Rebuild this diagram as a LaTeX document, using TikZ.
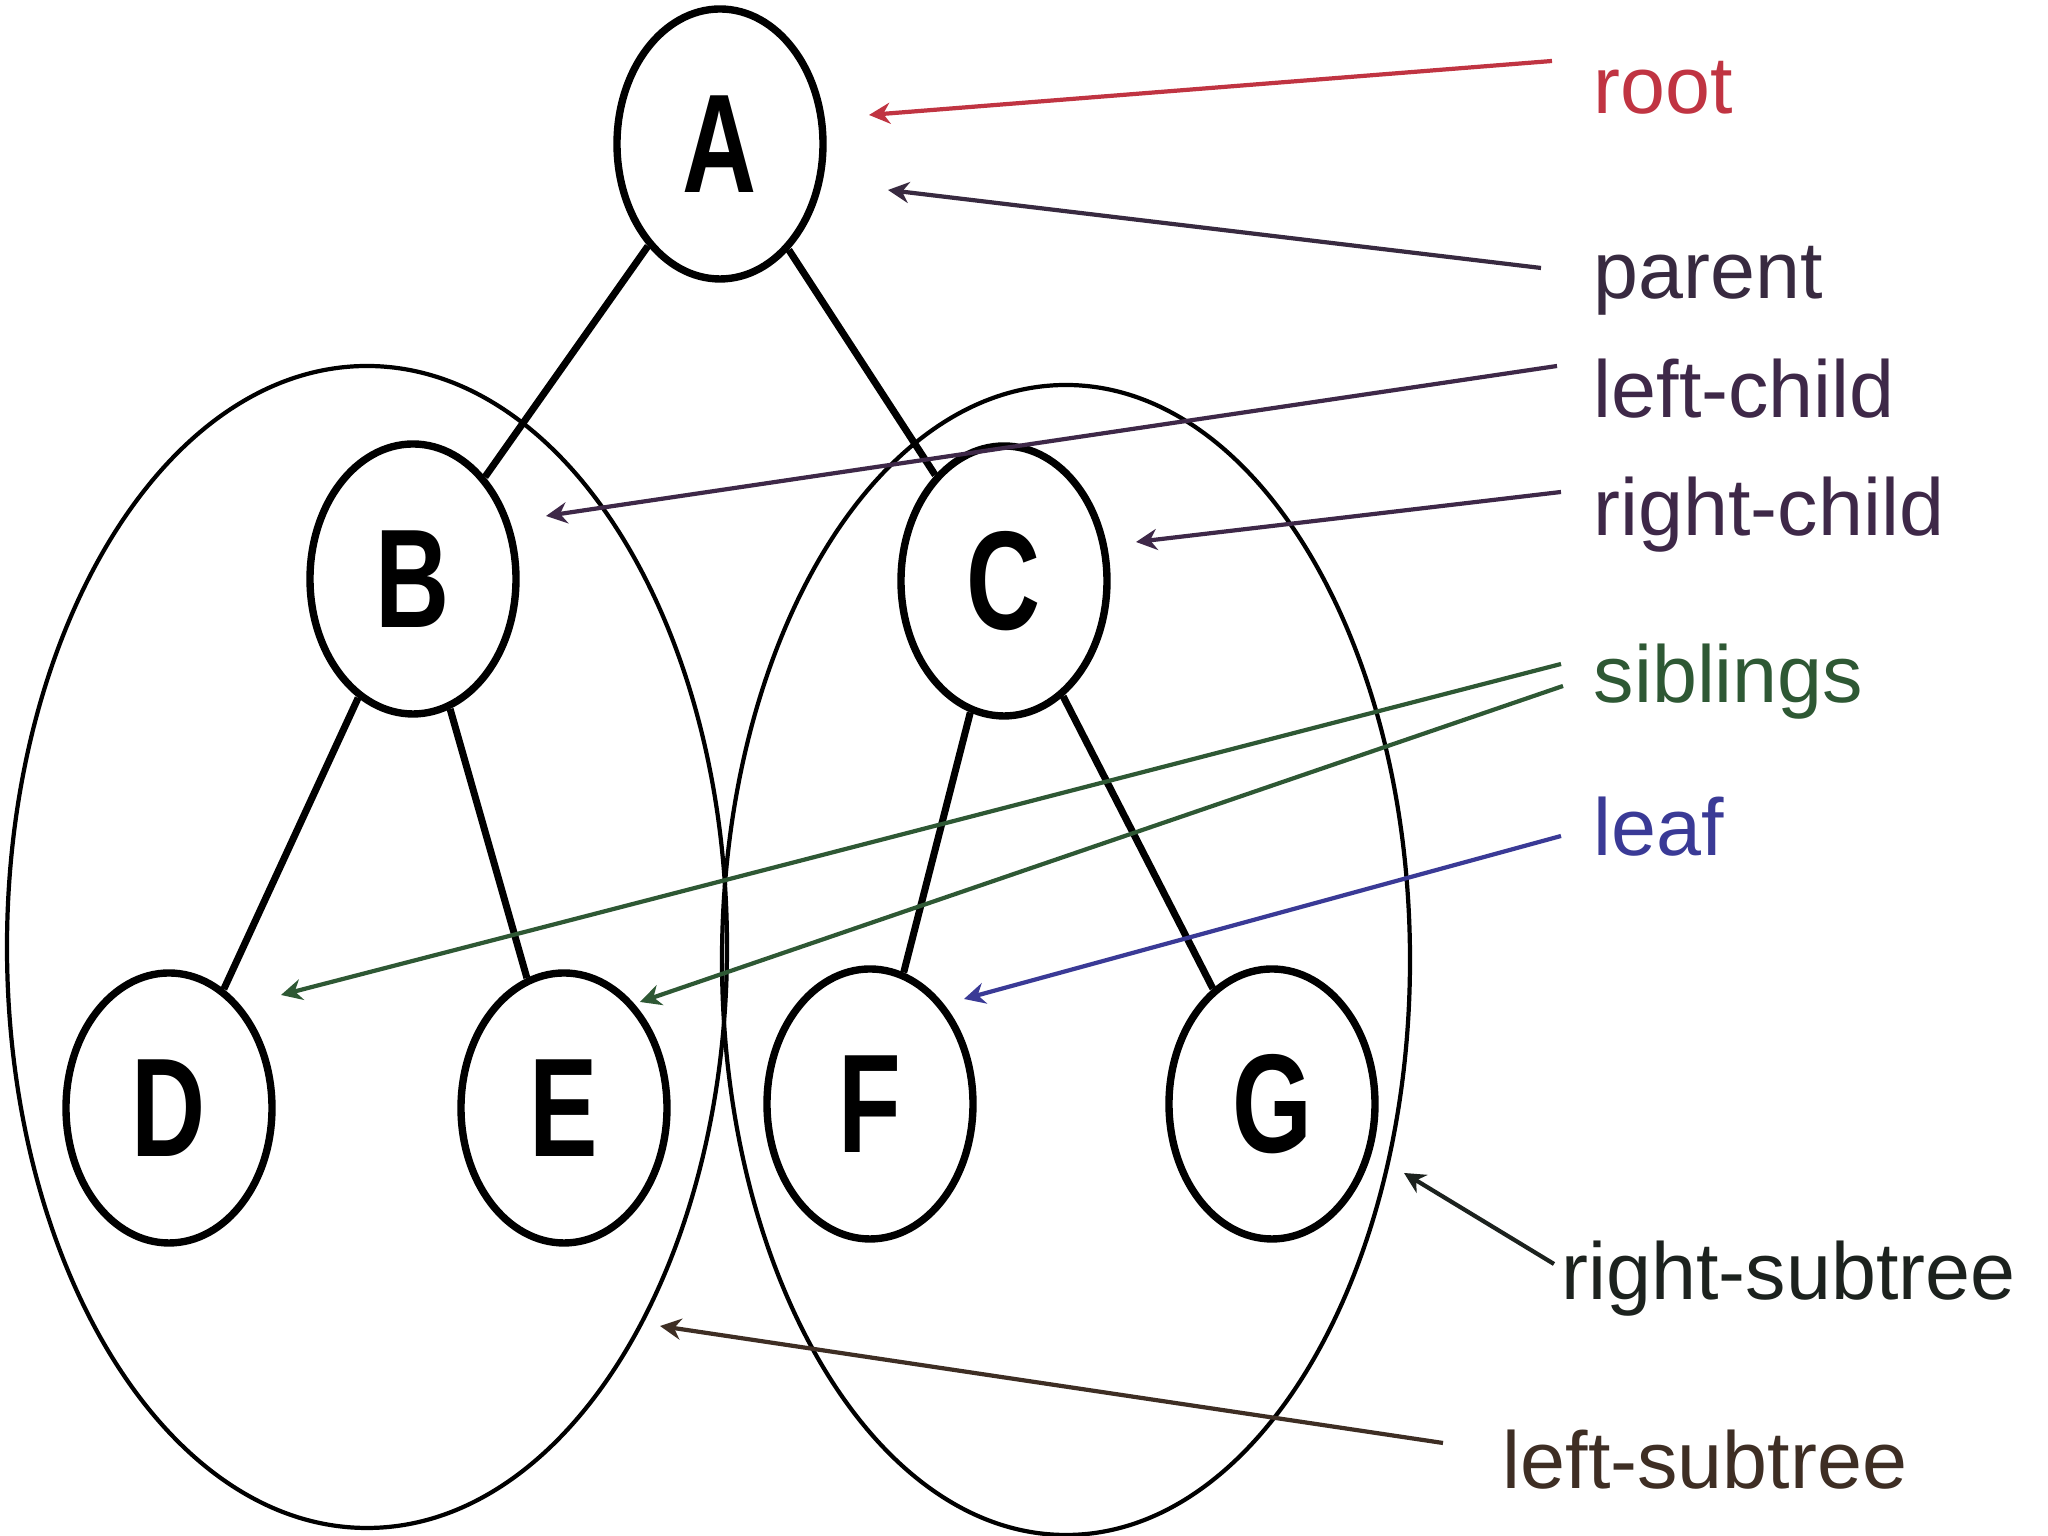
\documentclass[tikz,border=0pt]{standalone}
\usepackage{fontspec}
\setmainfont{Liberation Sans}
\usetikzlibrary{arrows.meta,shapes.geometric}

\definecolor{rootred}{RGB}{192,52,66}
\definecolor{parentink}{RGB}{56,42,64}
\definecolor{childink}{RGB}{62,40,72}
\definecolor{sibgreen}{RGB}{46,88,52}
\definecolor{leafblue}{RGB}{58,58,150}
\definecolor{rsubink}{RGB}{28,34,30}
\definecolor{lsubink}{RGB}{62,46,36}

\begin{document}
\begin{tikzpicture}[
  >={Stealth[length=6pt,width=6pt]},
  vertex/.style={ellipse, draw, line width=2.1pt, minimum width=2.06cm,
                 minimum height=2.70cm, inner sep=0pt,
                 font=\fontsize{40}{40}\selectfont\bfseries},
  subtree/.style={ellipse, draw, line width=1.2pt, inner sep=0pt},
  edge/.style={line width=2pt},
  pointer/.style={->, line width=1.2pt},
  term/.style={anchor=base west, inner sep=0pt,
               font=\fontsize{23}{23}\selectfont}
]
\newcommand{\squeeze}[1]{\scalebox{0.73}[1]{#1}}

\useasboundingbox (0,0) rectangle (20.48,15.36);

% ---------- Subtrees ----------
\node[subtree, minimum width=7.2cm, minimum height=11.62cm] (LS) at (3.67,5.89) {};
\node[subtree, minimum width=6.88cm, minimum height=11.5cm] (RS) at (10.66,5.76) {};

% ---------- Vertices ----------
\node[vertex] (A) at (7.20,13.92) {\squeeze{A}};
\node[vertex] (B) at (4.13,9.57)  {\squeeze{B}};
\node[vertex] (C) at (10.04,9.55) {\squeeze{C}};
\node[vertex] (D) at (1.69,4.28)  {\squeeze{D}};
\node[vertex] (E) at (5.64,4.28)  {\squeeze{E}};
\node[vertex] (F) at (8.70,4.32)  {\squeeze{F}};
\node[vertex] (G) at (12.72,4.32) {\squeeze{G}};

\foreach \p/\c in {A/B,A/C,B/D,B/E,C/F,C/G}
  \draw[edge] (\p) -- (\c);

% ---------- Terms ----------
\node[term, text=rootred]   (lroot)   at (15.93,14.22) {root};
\node[term, text=parentink] (lparent) at (15.93,12.37) {parent};
\node[term, text=childink]  (lleft)   at (15.93,11.18) {left-child};
\node[term, text=childink]  (lright)  at (15.93,10.00) {right-child};
\node[term, text=sibgreen]  (lsib)    at (15.93,8.33)  {siblings};
\node[term, text=leafblue]  (lleaf)   at (15.93,6.80)  {leaf};
\node[term, text=rsubink]   (lrsub)   at (15.61,2.36)  {right-subtree};
\node[term, text=lsubink]   (llsub)   at (15.02,0.47)  {left-subtree};

% ---------- Pointers ----------
\coordinate (sRoot)   at (15.52,14.75); \coordinate (tRoot)   at (8.69,14.21);
\coordinate (sParent) at (15.41,12.68); \coordinate (tParent) at (8.88,13.46);
\coordinate (sLeft)   at (15.57,11.70); \coordinate (tLeft)   at (5.46,10.20);
\coordinate (sRight)  at (15.61,10.44); \coordinate (tRight)  at (11.36,9.94);
\coordinate (sSibA)   at (15.61,8.72);  \coordinate (tSibA)   at (2.81,5.41);
\coordinate (sSibB)   at (15.63,8.50);  \coordinate (tSibB)   at (6.40,5.34);
\coordinate (sLeaf)   at (15.61,7.00);  \coordinate (tLeaf)   at (9.64,5.37);
\coordinate (sRsub)   at (15.54,2.72);  \coordinate (tRsub)   at (14.04,3.63);
\coordinate (sLsub)   at (14.43,0.93);  \coordinate (tLsub)   at (6.60,2.10);

\foreach \s/\t/\c in {sRoot/tRoot/rootred, sParent/tParent/parentink,
                      sLeft/tLeft/childink, sRight/tRight/childink,
                      sSibA/tSibA/sibgreen, sSibB/tSibB/sibgreen,
                      sLeaf/tLeaf/leafblue, sRsub/tRsub/rsubink,
                      sLsub/tLsub/lsubink}
  \draw[pointer, \c] (\s) -- (\t);

\end{tikzpicture}
\end{document}
